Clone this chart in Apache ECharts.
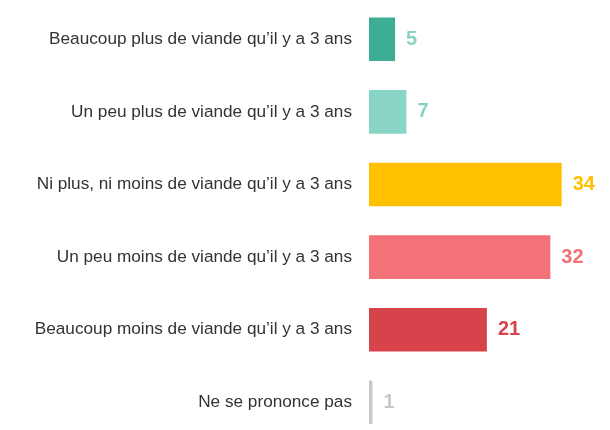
<!DOCTYPE html>
<html><head><meta charset="utf-8">
<script src="https://cdn.jsdelivr.net/npm/echarts@6/dist/echarts.min.js"></script>
<style>html,body{margin:0;padding:0;background:#fff}#c{width:610px;height:430px}</style>
</head><body><div id="c"></div>
<script>
var categories = [
  "Beaucoup plus de viande qu’il y a 3 ans",
  "Un peu plus de viande qu’il y a 3 ans",
  "Ni plus, ni moins de viande qu’il y a 3 ans",
  "Un peu moins de viande qu’il y a 3 ans",
  "Beaucoup moins de viande qu’il y a 3 ans",
  "Ne se prononce pas"
];
var values = [4.6, 6.6, 34, 32, 20.8, 0.6];
var labels = ["5", "7", "34", "32", "21", "1"];
var barColors = ["#3dae95", "#88d4c5", "#ffc000", "#f27277", "#d6434a", "#c8c8c8"];
var labelColors = ["#86d3c4", "#86d3c4", "#ffc000", "#f27277", "#d6434a", "#c8c8c8"];

var chart = echarts.init(document.getElementById('c'));
chart.setOption({
  animation: false,
  grid: {left: 369, width: 226.7, top: 3, height: 435.6, containLabel: false, outerBoundsMode: 'none'},
  xAxis: {type: 'value', min: 0, max: 40, show: false},
  yAxis: {
    type: 'category', inverse: true, data: categories,
    axisLine: {show: false}, axisTick: {show: false},
    axisLabel: {margin: 17, color: '#333333', fontSize: 17.2, fontFamily: 'Liberation Sans, Arial, sans-serif'}
  },
  series: [{
    type: 'bar', barWidth: '60%',
    data: values.map(function (v, i) {
      return {
        value: v,
        itemStyle: {color: barColors[i]},
        label: {
          show: true, position: 'right', distance: 11,
          formatter: labels[i], color: labelColors[i],
          fontSize: 20, fontWeight: 'bold', fontFamily: 'Liberation Sans, Arial, sans-serif'
        }
      };
    })
  }]
});
</script></body></html>
